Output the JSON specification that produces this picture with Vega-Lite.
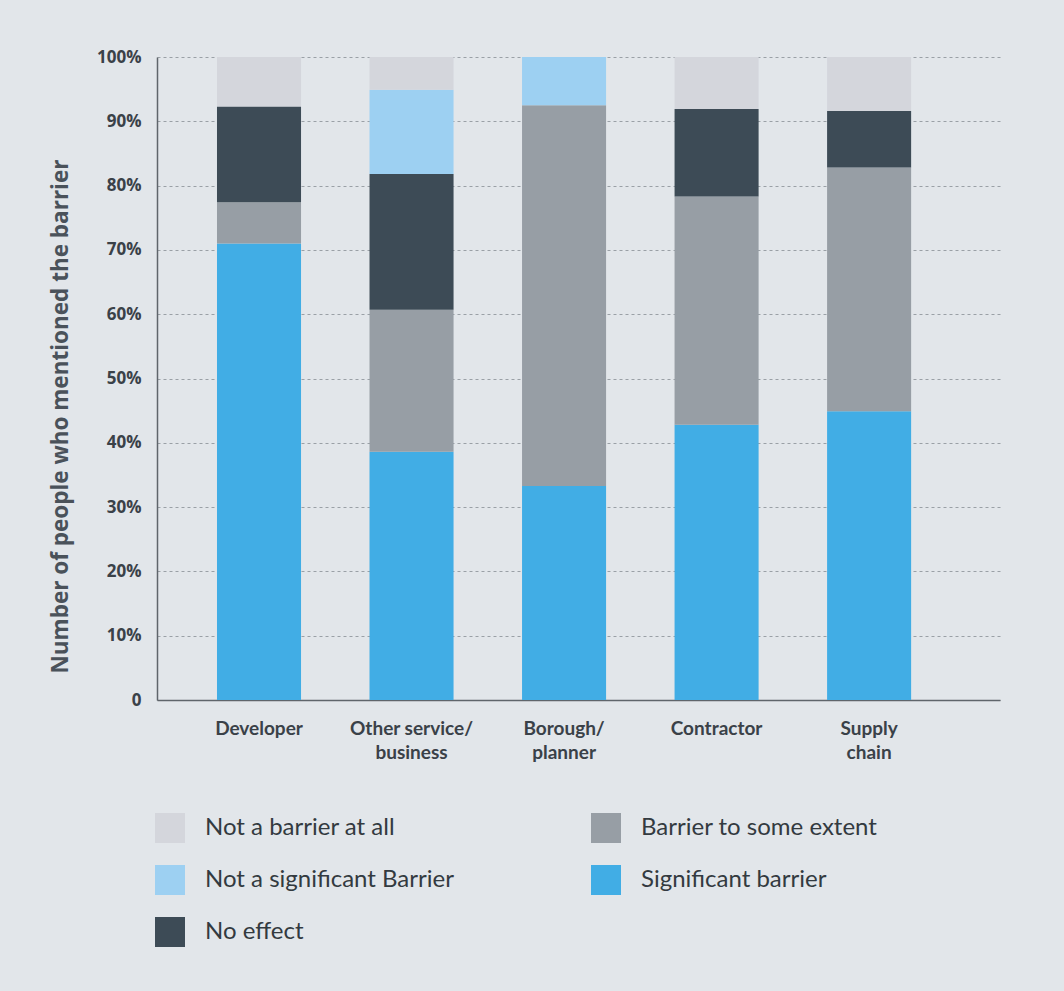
{
  "$schema": "https://vega.github.io/schema/vega-lite/v6.json",
  "autosize": "none",
  "width": 843,
  "height": 643,
  "padding": {"left": 157, "top": 57, "right": 64, "bottom": 291},
  "background": "#e2e6ea",
  "config": {
    "view": {"stroke": null},
    "font": "Open Sans"
  },
  "data": {
    "values": [
      {"group": "Developer", "barrier": "Significant barrier", "pct": 71.0},
      {"group": "Developer", "barrier": "Barrier to some extent", "pct": 6.4},
      {"group": "Developer", "barrier": "No effect", "pct": 14.9},
      {"group": "Developer", "barrier": "Not a significant Barrier", "pct": 0},
      {"group": "Developer", "barrier": "Not a barrier at all", "pct": 7.7},
      {"group": "Other service/business", "barrier": "Significant barrier", "pct": 38.6},
      {"group": "Other service/business", "barrier": "Barrier to some extent", "pct": 22.1},
      {"group": "Other service/business", "barrier": "No effect", "pct": 21.1},
      {"group": "Other service/business", "barrier": "Not a significant Barrier", "pct": 13.1},
      {"group": "Other service/business", "barrier": "Not a barrier at all", "pct": 5.1},
      {"group": "Borough/planner", "barrier": "Significant barrier", "pct": 33.3},
      {"group": "Borough/planner", "barrier": "Barrier to some extent", "pct": 59.2},
      {"group": "Borough/planner", "barrier": "No effect", "pct": 0},
      {"group": "Borough/planner", "barrier": "Not a significant Barrier", "pct": 7.5},
      {"group": "Borough/planner", "barrier": "Not a barrier at all", "pct": 0},
      {"group": "Contractor", "barrier": "Significant barrier", "pct": 42.8},
      {"group": "Contractor", "barrier": "Barrier to some extent", "pct": 35.5},
      {"group": "Contractor", "barrier": "No effect", "pct": 13.6},
      {"group": "Contractor", "barrier": "Not a significant Barrier", "pct": 0},
      {"group": "Contractor", "barrier": "Not a barrier at all", "pct": 8.1},
      {"group": "Supply chain", "barrier": "Significant barrier", "pct": 44.9},
      {"group": "Supply chain", "barrier": "Barrier to some extent", "pct": 37.9},
      {"group": "Supply chain", "barrier": "No effect", "pct": 8.8},
      {"group": "Supply chain", "barrier": "Not a significant Barrier", "pct": 0},
      {"group": "Supply chain", "barrier": "Not a barrier at all", "pct": 8.4}
    ]
  },
  "transform": [
    {"calculate": "indexof(['Significant barrier','Barrier to some extent','No effect','Not a significant Barrier','Not a barrier at all'], datum.barrier)", "as": "stackOrder"}
  ],
  "mark": {"type": "bar"},
  "encoding": {
    "x": {
      "field": "group",
      "type": "nominal",
      "sort": ["Developer", "Other service/business", "Borough/planner", "Contractor", "Supply chain"],
      "scale": {"paddingInner": 0.449, "paddingOuter": 0.488, "align": 0.403},
      "axis": {
        "title": null,
        "labelAngle": 0,
        "labelExpr": "datum.label == 'Other service/business' ? ['Other service/', 'business'] : datum.label == 'Borough/planner' ? ['Borough/', 'planner'] : datum.label == 'Supply chain' ? ['Supply', 'chain'] : datum.label",
        "labelFont": "Lato",
        "labelFontWeight": "bold",
        "labelFontSize": 19,
        "labelColor": "#3a4148",
        "labelLineHeight": 24,
        "labelPadding": 19,
        "labelBaseline": "top",
        "ticks": false,
        "domainColor": "#5f656b",
        "domainWidth": 1.5
      }
    },
    "y": {
      "field": "pct",
      "type": "quantitative",
      "stack": "zero",
      "scale": {"domain": [0, 100], "nice": false},
      "axis": {
        "title": "Number of people who mentioned the barrier",
        "titleFont": "Open Sans",
        "titleFontWeight": "bold",
        "titleFontSize": 22.5,
        "titleColor": "#4a525a",
        "titleAngle": 270,
        "titleX": -97,
        "titleY": 359,
        "titleAlign": "center",
        "titleBaseline": "middle",
        "values": [0, 10, 20, 30, 40, 50, 60, 70, 80, 90, 100],
        "labelExpr": "datum.value == 0 ? '0' : datum.value + '%'",
        "labelFont": "Open Sans",
        "labelFontWeight": "bold",
        "labelFontSize": 17,
        "labelColor": "#3a4148",
        "labelPadding": 16,
        "ticks": false,
        "grid": true,
        "gridColor": "#9aa0a6",
        "gridDash": [3, 3],
        "gridWidth": 1,
        "domainColor": "#5f656b",
        "domainWidth": 1.5
      }
    },
    "color": {
      "field": "barrier",
      "type": "nominal",
      "scale": {
        "domain": ["Not a barrier at all", "Barrier to some extent", "Not a significant Barrier", "Significant barrier", "No effect"],
        "range": ["#d4d6dc", "#979ea5", "#9dd0f2", "#41ade5", "#3d4b56"]
      },
      "legend": {
        "title": null,
        "orient": "none",
        "legendX": -2,
        "legendY": 756,
        "columns": 2,
        "direction": "horizontal",
        "symbolType": "square",
        "symbolSize": 900,
        "symbolStrokeWidth": 0,
        "labelFont": "Lato",
        "labelFontSize": 24,
        "labelColor": "#333a40",
        "labelOffset": 20,
        "labelLimit": 400,
        "columnPadding": 137,
        "rowPadding": 22,
        "gridAlign": "all"
      }
    },
    "order": {"field": "stackOrder", "type": "quantitative", "sort": "ascending"}
  }
}
